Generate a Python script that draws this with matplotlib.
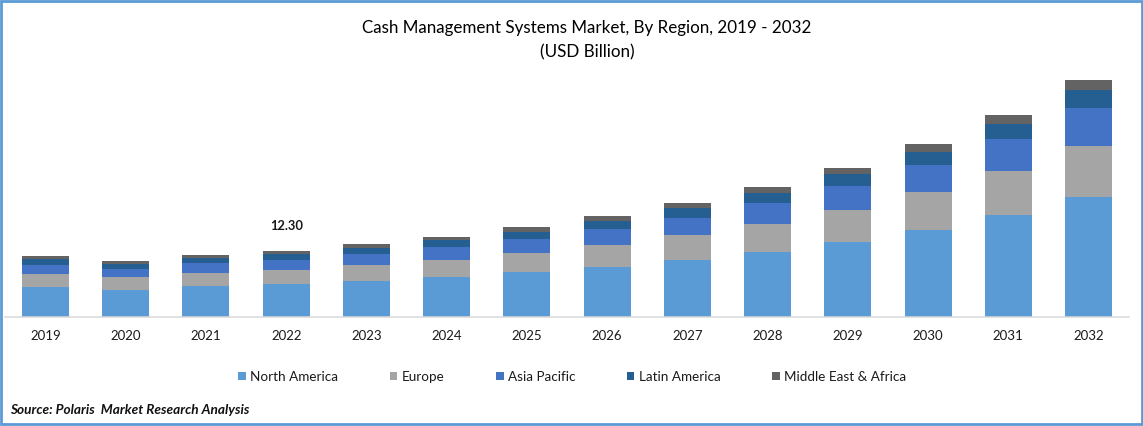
import numpy as np
import matplotlib
matplotlib.use('Agg')
import matplotlib.pyplot as plt
from matplotlib.patches import Rectangle

plt.rcParams['font.family'] = ['Lato', 'DejaVu Sans']

years = ['2019', '2020', '2021', '2022', '2023', '2024', '2025', '2026', '2027', '2028', '2029', '2030', '2031', '2032']
north_america = [5.59, 5.03, 5.78, 6.15, 6.71, 7.45, 8.39, 9.32, 10.62, 12.11, 13.98, 16.22, 19.01, 22.36]
europe = [2.42, 2.42, 2.42, 2.61, 2.98, 3.17, 3.54, 4.10, 4.66, 5.22, 5.96, 7.08, 8.20, 9.51]
asia_pacific = [1.68, 1.49, 1.86, 1.86, 2.05, 2.42, 2.61, 2.98, 3.17, 3.91, 4.47, 5.03, 5.96, 7.08]
latin_america = [1.12, 0.93, 0.93, 1.12, 1.12, 1.30, 1.30, 1.49, 1.86, 1.86, 2.24, 2.42, 2.80, 3.36]
middle_east = [0.56, 0.56, 0.56, 0.56, 0.75, 0.56, 0.93, 0.93, 0.93, 1.12, 1.12, 1.49, 1.68, 1.86]

names = ['North America', 'Europe', 'Asia Pacific', 'Latin America', 'Middle East & Africa']
colors = ['#5B9BD5', '#A5A5A5', '#4472C4', '#255E91', '#636363']
series = [north_america, europe, asia_pacific, latin_america, middle_east]
label_year = '2022'
label_value = '12.30'

W, H = 1143, 426
fig = plt.figure(figsize=(W / 100, H / 100), dpi=100, facecolor='white')
ax = fig.add_axes([5.4 / W, 1 - 317 / H, 1123.2 / W, 247 / H])

index = np.arange(len(years))
bottom = np.zeros(len(years))
for vals, name, col in zip(series, names, colors):
    ax.bar(index, vals, 0.586, bottom=bottom, color=col, label=name)
    bottom += np.array(vals)

ax.set_xlim(-0.5, len(years) - 0.5)
ax.set_ylim(0, 46.04)
ax.set_xticks(index, years)
ax.set_yticks([])
ax.tick_params(axis='x', length=0, pad=9, labelsize=9.5, labelcolor='#1a1a1a')
for s in ['top', 'left', 'right']:
    ax.spines[s].set_visible(False)
ax.spines['bottom'].set_color('#D9D9D9')
ax.spines['bottom'].set_linewidth(1.1)

i = years.index(label_year)
ax.annotate(label_value, (i, bottom[i]), xytext=(0, 18.2), textcoords='offset points',
            ha='center', va='center', fontsize=9.3, fontweight='bold', color='#1a1a1a')

fig.text(587 / W, 1 - 40.5 / H, 'Cash Management Systems Market, By Region, 2019 - 2032\n(USD Billion)',
         ha='center', va='center', fontsize=12.25, color='black', linespacing=1.6)

leg = ax.legend(loc='center', bbox_to_anchor=(572 / W, 1 - 377 / H), bbox_transform=fig.transFigure,
                ncol=5, frameon=False, fontsize=9.75, handlelength=0.58, handleheight=0.58,
                handletextpad=0.3, columnspacing=3.8, borderpad=0, labelcolor='#1a1a1a')

fig.text(10 / W, 1 - 410.5 / H, 'Source: Polaris  Market Research Analysis', ha='left', va='center',
         fontsize=9.8, fontweight='bold', fontstyle='italic', color='#111111')

# frame around the whole picture
fig.add_artist(Rectangle((1.2 / W, 1.6 / H), (W - 2.4) / W, (H - 2.8) / H, transform=fig.transFigure,
                         fill=False, edgecolor='#5B9BD5', linewidth=2))

fig.savefig('out.png', dpi=100)
